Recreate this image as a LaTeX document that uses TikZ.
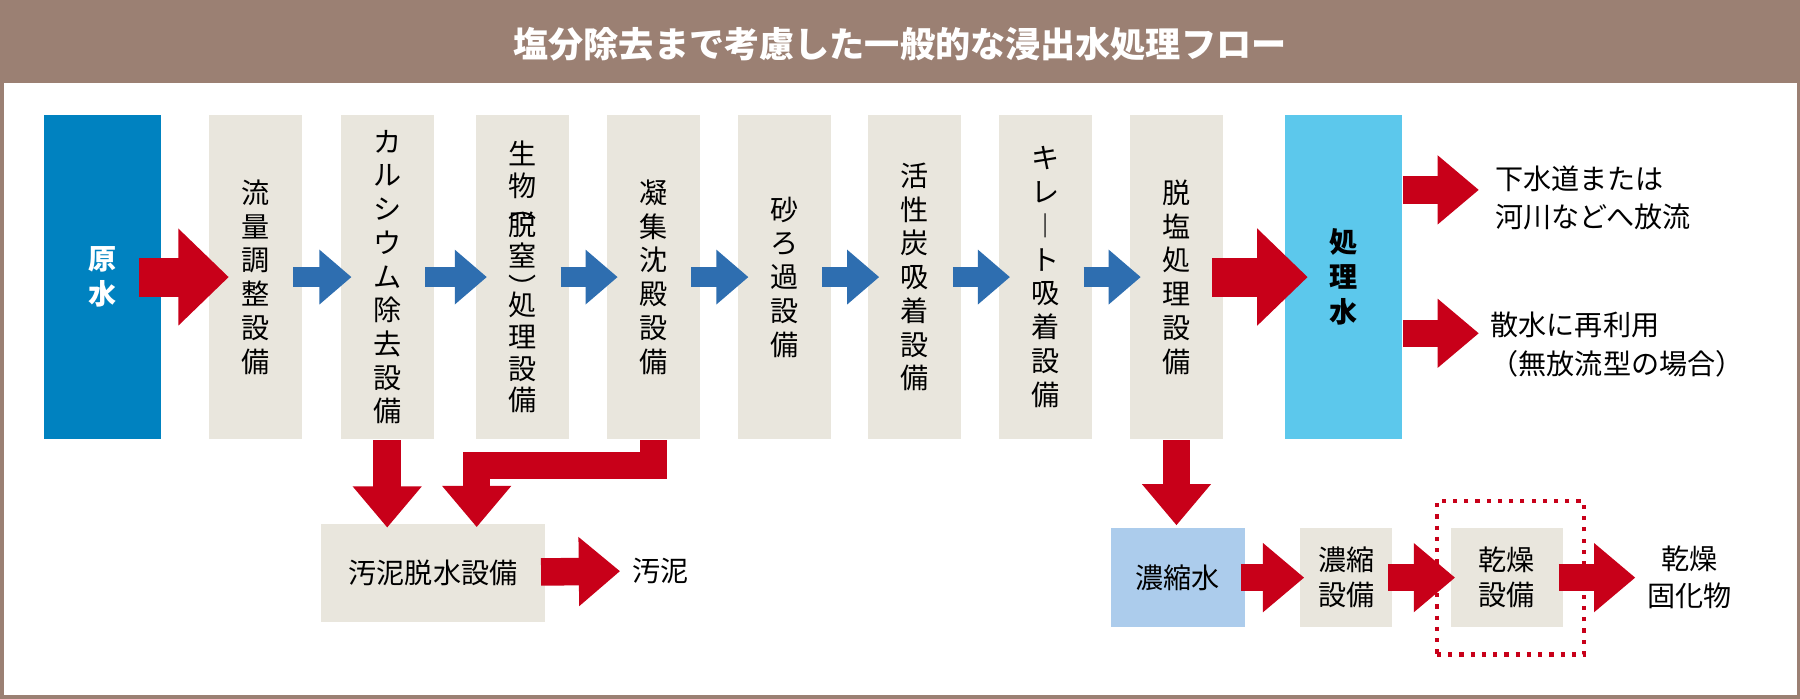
\documentclass[tikz,border=0pt]{standalone}
\usepackage{fontspec}
\setmainfont{Noto Sans CJK JP}
\usetikzlibrary{arrows.meta,positioning}
\definecolor{titlebrown}{RGB}{155,128,115}
\definecolor{boxgray}{RGB}{233,230,221}
\definecolor{rawblue}{RGB}{0,130,192}
\definecolor{treatcyan}{RGB}{92,200,236}
\definecolor{concblue}{RGB}{172,204,236}
\definecolor{flowred}{RGB}{200,0,25}
\definecolor{flowblue}{RGB}{46,110,176}
\newcommand\pxu{0.01148cm}
\begin{document}
\begin{tikzpicture}[
        x=0.01148cm, y=-0.01148cm,
        unit/.style={fill=boxgray, minimum width={81*\pxu}, minimum height={283*\pxu}, inner sep=0pt, align=center, font=\fontsize{8}{9.6}\selectfont},
        sub/.style={fill=boxgray, minimum height={86*\pxu}, inner sep=0pt, align=center, font=\fontsize{8}{10}\selectfont},
        redarrow/.style={draw=flowred, line width={34*\pxu}, -{Triangle[length={44*\pxu},width={82*\pxu}]}},
        bluearrow/.style={draw=flowblue, line width={18*\pxu}, -{Triangle[length={28*\pxu},width={46*\pxu}]}, shorten <=-8*\pxu, shorten >=-10*\pxu},
        smallred/.style={draw=flowred, line width={24*\pxu}, -{Triangle[length={36*\pxu},width={58*\pxu}]}},
        outtext/.style={anchor=west, align=left, font=\fontsize{8}{11}\selectfont}
    ]
        % frame and title
        \fill[white] (0,0) rectangle (1568,608);
        \draw[titlebrown, line width=1pt] (1,1) rectangle (1567,607);
        \fill[titlebrown] (0,0) rectangle (1568,72);
        \node[text=white, font=\bfseries\fontsize{10}{12}\selectfont] (title) at (784,38) {塩分除去まで考慮した一般的な浸出水処理フロー};

        % main line
        \node[unit, fill=rawblue, minimum width={102*\pxu}, text=white, font=\bfseries\fontsize{8}{10}\selectfont] (raw) at (89,241) {原\\水};
        \node[unit] (flow) at (222,241) {流\\量\\調\\整\\設\\備};
        \node[unit] (calc) at (337,241) {カ\\ル\\シ\\ウ\\ム\\除\\去\\設\\備};
        \node[unit, font=\fontsize{8}{9}\selectfont] (bio) at (455,241) {生\\物\\[-3pt]︵\\[-4pt]脱\\窒\\︶\\[-4pt]処\\理\\設\\備};
        \node[unit] (coag) at (569,241) {凝\\集\\沈\\殿\\設\\備};
        \node[unit] (sand) at (683,241) {砂\\ろ\\過\\設\\備};
        \node[unit] (carbon) at (797,241) {活\\性\\炭\\吸\\着\\設\\備};
        \node[unit] (chel) at (911,241) {キ\\レ\\︱\\ト\\吸\\着\\設\\備};
        \node[unit] (desal) at (1025,241) {脱\\塩\\処\\理\\設\\備};
        \node[unit, fill=treatcyan, minimum width={102*\pxu}, font=\bfseries\fontsize{8}{10}\selectfont] (treated) at (1171,241) {処\\理\\水};

        % outlets
        \node[outtext] (sewer) at (1292,172) {下水道または\\河川などへ放流};
        \node[outtext] (reuse) at (1288,300) {散水に再利用\\（無放流型の場合）};

        % sludge
        \node[sub, minimum width={195*\pxu}] (dewater) at (377,499) {汚泥脱水設備};
        \node[anchor=west, font=\fontsize{8}{10}\selectfont] (sludge) at (540,497) {汚泥};

        % concentrate
        \node[sub, fill=concblue, minimum width={117*\pxu}] (conc) at (1026,503) {濃縮水};
        \node[sub, minimum width={80*\pxu}] (concunit) at (1173,503) {濃縮\\設備};
        \node[sub, minimum width={97*\pxu}] (dryer) at (1313,503) {乾燥\\設備};
        \node[draw=flowred, dotted, line width=1.2pt, minimum width={128*\pxu}, minimum height={134*\pxu}] (dryframe) at (1316,503) {};
        \node[anchor=west, align=center, font=\fontsize{8}{10.5}\selectfont] (solid) at (1425,503) {乾燥\\固化物};

        % arrows
        \draw[redarrow, shorten <=-20*\pxu, shorten >=-18*\pxu] (raw) -- (flow);
        \foreach \a/\b in {flow/calc, calc/bio, bio/coag, coag/sand, sand/carbon, carbon/chel, chel/desal}
            \draw[bluearrow] (\a) -- (\b);
        \draw[redarrow, shorten <=-10*\pxu, shorten >=-20*\pxu] (desal) -- (treated);
        \draw[smallred] (treated.east |- 0,165) -- ++(66,0);
        \draw[smallred] (treated.east |- 0,290) -- ++(66,0);
        \draw[smallred, shorten >=-4*\pxu] (calc.south) -- (calc.south |- dewater.north);
        \draw[smallred, shorten >=-4*\pxu] (coag.south) -- ++(0,22) -| (415,455);
        \draw[smallred, shorten <=-4*\pxu] (dewater) -- (sludge);
        \draw[smallred, shorten >=2*\pxu] (desal.south) -- (desal.south |- conc.north);
        \draw[smallred, shorten <=-4*\pxu, shorten >=-4*\pxu] (conc) -- (concunit);
        \draw[smallred, shorten <=-4*\pxu, shorten >=-4*\pxu] (concunit) -- (dryer);
        \draw[smallred, shorten <=-4*\pxu] (dryer) -- (solid);
    \end{tikzpicture}
\end{document}
